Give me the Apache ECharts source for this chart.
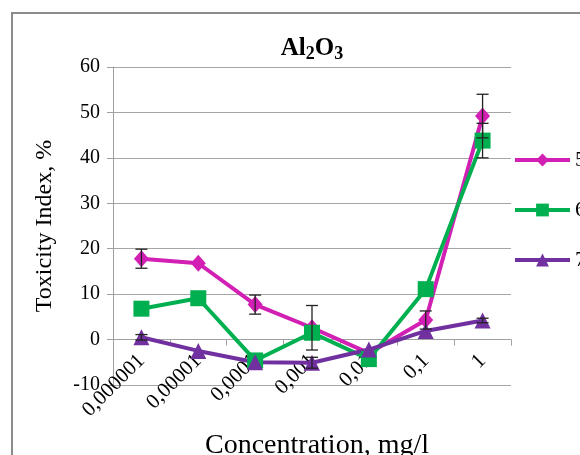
<!DOCTYPE html>
<html>
<head>
<meta charset="utf-8">
<script src="https://cdn.jsdelivr.net/npm/echarts@6/dist/echarts.min.js"></script>
<style>
  html, body { margin: 0; padding: 0; background: #fff; }
  #chart { width: 580px; height: 455px; }
</style>
</head>
<body>
<div id="chart"></div>
<script>
// concentrations, mg/l
var categories = ['0,000001', '0,00001', '0,0001', '0,001', '0,01', '0,1', '1'];
var yTicks = [-10, 0, 10, 20, 30, 40, 50, 60];

// toxicity index, %
var series5 = [17.8, 16.8, 7.7, 2.6, -3.0, 4.3, 49.2];
var series6 = [6.8, 9.1, -4.6, 1.5, -4.3, 11.1, 43.8];
var series7 = [0.5, -2.5, -5.0, -5.1, -2.2, 1.9, 4.2];

// error bar half-lengths (0 = none seen)
var err5 = [2.1, 0, 2.1, 4.9, 0, 2.0, 4.8];
var err6 = [0, 0, 0, 0, 0, 0, 3.8];
var err7 = [0.6, 0, 0, 1.2, 0, 0, 0.5];

var FONT = '"Liberation Serif", "Times New Roman", serif';
var cMagenta = '#d21fb4';
var cGreen = '#00b050';
var cPurple = '#7030a0';

var chart = echarts.init(document.getElementById('chart'));

function errData(vals, errs) {
	var out = [];
	vals.forEach(function (v, i) {
		if (errs[i] > 0) out.push([i, v - errs[i], v + errs[i]]);
	});
	return out;
}

function renderErr(params, api) {
	var lo = api.coord([api.value(0), api.value(1)]);
	var hi = api.coord([api.value(0), api.value(2)]);
	var half = 6;
	var style = { stroke: '#222', lineWidth: 1.3 };
	return {
		type: 'group',
		children: [
			{ type: 'line', shape: { x1: hi[0], y1: hi[1], x2: lo[0], y2: lo[1] }, style: style },
			{ type: 'line', shape: { x1: hi[0] - half, y1: hi[1], x2: hi[0] + half, y2: hi[1] }, style: style },
			{ type: 'line', shape: { x1: lo[0] - half, y1: lo[1], x2: lo[0] + half, y2: lo[1] }, style: style }
		]
	};
}

function lineSeries(name, data, color, symbol, size) {
	return {
		name: name,
		type: 'line',
		data: data,
		symbol: symbol,
		symbolSize: size,
		itemStyle: { color: color },
		lineStyle: { color: color, width: 4 },
		z: 3
	};
}

function errSeries(vals, errs) {
	return {
		type: 'custom',
		renderItem: renderErr,
		data: errData(vals, errs),
		encode: { x: 0, y: [1, 2] },
		silent: true,
		z: 4
	};
}

// grid is 318px tall for 70 units; the x axis crosses at y = 0
var gridTop = 67, gridBottom = 70, gridH = 455 - gridTop - gridBottom;
var zeroOffset = -gridH * (0 - yTicks[0]) / (yTicks[yTicks.length - 1] - yTicks[0]);

var option = {
	animation: false,
	backgroundColor: '#fff',
	textStyle: { fontFamily: FONT, color: '#000' },
	title: {
		text: '{a|Al}{s|2}{a|O}{s|3}',
		left: 307,
		textAlign: 'center',
		top: 30,
		textStyle: {
			rich: {
				a: { fontFamily: FONT, fontSize: 25, fontWeight: 'bold', color: '#000', lineHeight: 28 },
				s: { fontFamily: FONT, fontSize: 18, fontWeight: 'bold', color: '#000', lineHeight: 28, padding: [10, 0, 0, 0] }
			}
		}
	},
	legend: {
		orient: 'vertical',
		left: 513,
		top: 149,
		padding: 0,
		itemWidth: 55,
		itemHeight: 16,
		itemGap: 28,
		lineStyle: { width: 4 },
		textStyle: { fontFamily: FONT, fontSize: 22, color: '#000' },
		data: ['5', '6', '7']
	},
	grid: { left: 113, right: 69, top: gridTop, bottom: gridBottom, outerBoundsMode: 'none' },
	xAxis: {
		type: 'category',
		data: categories,
		boundaryGap: true,
		position: 'bottom',
		offset: zeroOffset,
		axisLine: { onZero: false, lineStyle: { color: '#a0a0a0', width: 1 } },
		axisTick: { show: true, alignWithLabel: false, length: 6, lineStyle: { color: '#a0a0a0' } },
		axisLabel: { rotate: 45, margin: 18, fontFamily: FONT, fontSize: 21, color: '#000' },
		name: 'Concentration, mg/l',
		nameLocation: 'middle',
		nameGap: 92,
		nameTextStyle: { fontFamily: FONT, fontSize: 28, color: '#000', padding: [0, 0, 0, 10] }
	},
	yAxis: {
		type: 'value',
		min: yTicks[0],
		max: yTicks[yTicks.length - 1],
		interval: 10,
		axisLine: { show: true, lineStyle: { color: '#a0a0a0' } },
		axisTick: { show: true, length: 6, lineStyle: { color: '#a0a0a0' } },
		axisLabel: { margin: 13, fontFamily: FONT, fontSize: 20, color: '#000' },
		splitLine: { lineStyle: { color: '#a6a6a6', width: 1 } },
		name: 'Toxicity Index, %',
		nameLocation: 'middle',
		nameGap: 56,
		nameTextStyle: { fontFamily: FONT, fontSize: 24, color: '#000' }
	},
	graphic: [{
		type: 'rect',
		shape: { x: 12, y: 13, width: 620, height: 500 },
		style: { fill: 'none', stroke: '#8c8c8c', lineWidth: 2 },
		silent: true,
		z: -1
	}],
	series: [
		lineSeries('5', series5, cMagenta, 'diamond', [15, 17]),
		lineSeries('6', series6, cGreen, 'rect', 16),
		lineSeries('7', series7, cPurple, 'triangle', 16),
		errSeries(series5, err5),
		errSeries(series6, err6),
		errSeries(series7, err7)
	]
};

chart.setOption(option);
</script>
</body>
</html>
